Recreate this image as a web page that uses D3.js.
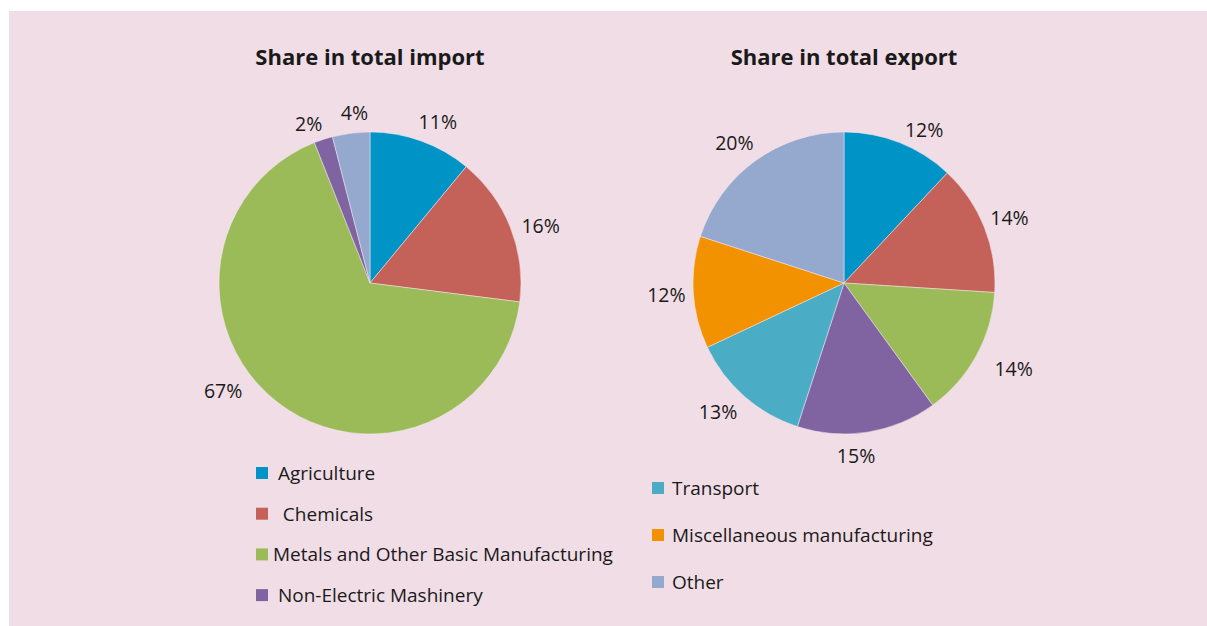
<!DOCTYPE html>
<html>
<head>
<meta charset="utf-8">
<script src="https://cdn.jsdelivr.net/npm/d3@7"></script>
<style>
  body { margin: 0; background: #ffffff; }
  svg { display: block; }
  text { font-family: "Open Sans", "Noto Sans", sans-serif; fill: #1a1a1a; white-space: pre; }
</style>
</head>
<body>
<svg id="chart" width="1207" height="626"></svg>
<script>
// Sector shares of trade, in percent
const importCategories = ["Agriculture", "Chemicals", "Metals and Other Basic Manufacturing", "Non-Electric Mashinery", "Other"];
const importShares = [11, 16, 67, 2, 4];

const exportCategories = ["Agriculture", "Chemicals", "Metals and Other Basic Manufacturing", "Non-Electric Mashinery", "Transport", "Miscellaneous manufacturing", "Other"];
const exportShares = [12, 14, 14, 15, 13, 12, 20];

// Legend entries under each pie (label text as printed)
const importLegendKeys = ["Agriculture", "Chemicals", "Metals and Other Basic Manufacturing", "Non-Electric Mashinery"];
const importLegendLabels = [" Agriculture", "  Chemicals", "Metals and Other Basic Manufacturing", " Non-Electric Mashinery"];
const exportLegendKeys = ["Transport", "Miscellaneous manufacturing", "Other"];
const exportLegendLabels = ["Transport", "Miscellaneous manufacturing", "Other"];

const titles = ["Share in total import", "Share in total export"];

const color = d3.scaleOrdinal()
  .domain(["Agriculture", "Chemicals", "Metals and Other Basic Manufacturing", "Non-Electric Mashinery", "Transport", "Miscellaneous manufacturing", "Other"])
  .range(["#0094c6", "#c4625a", "#9bbb59", "#8064a2", "#4bacc6", "#f39200", "#95a9cf"]);

const svg = d3.select("#chart");

// panel background
svg.append("rect")
  .attr("x", 9).attr("y", 11)
  .attr("width", 1198).attr("height", 615)
  .attr("fill", "#f1dde6");

const radius = 151;
const labelRadius = 178;

const pie = d3.pie().sort(null).value(d => d.value);
const arc = d3.arc().innerRadius(0).outerRadius(radius);

function drawPie(cx, cy, title, cats, values, angleTweaks) {
  const g = svg.append("g").attr("transform", `translate(${cx},${cy})`);
  const data = cats.map((c, i) => ({ key: c, value: values[i] }));
  const arcs = pie(data);

  g.selectAll("path.slice")
    .data(arcs)
    .join("path")
    .attr("class", "slice")
    .attr("d", arc)
    .attr("fill", d => color(d.data.key))
    .attr("stroke", "#f6e9ee")
    .attr("stroke-width", 0.5);

  g.selectAll("text.pct")
    .data(arcs)
    .join("text")
    .attr("class", "pct")
    .attr("transform", d => {
      const t = angleTweaks[d.data.key] || { da: 0, dr: 0 };
      const a = (d.startAngle + d.endAngle) / 2 + t.da * Math.PI / 180;
      const r = labelRadius + t.dr;
      return `translate(${Math.sin(a) * r},${-Math.cos(a) * r})`;
    })
    .attr("text-anchor", "middle")
    .attr("dominant-baseline", "central")
    .attr("font-size", 19.5)
    .text(d => d.data.value + "%");

  svg.append("text")
    .attr("x", cx).attr("y", 65)
    .attr("text-anchor", "middle")
    .attr("font-size", 22)
    .attr("font-weight", "bold")
    .text(title);
}

function drawLegend(x, y0, step, gap, keys, labels) {
  const g = svg.append("g");
  const rows = g.selectAll("g.item")
    .data(keys.map((k, i) => ({ key: k, label: labels[i] })))
    .join("g")
    .attr("class", "item")
    .attr("transform", (d, i) => `translate(${x},${y0 + i * step})`);
  rows.append("rect")
    .attr("x", 0).attr("y", -6)
    .attr("width", 12).attr("height", 12)
    .attr("fill", d => color(d.key));
  rows.append("text")
    .attr("x", 12 + gap).attr("y", 0)
    .attr("dominant-baseline", "central")
    .attr("font-size", 19)
    .text(d => d.label);
}

drawPie(370, 283, titles[0], importCategories, importShares, {
  "Agriculture": { da: 3, dr: -3 },
  "Chemicals": { da: 3, dr: 2 },
  "Metals and Other Basic Manufacturing": { da: 16, dr: 4 },
  "Non-Electric Mashinery": { da: -3, dr: -7 },
  "Other": { da: 2, dr: -7 }
});
drawPie(844, 283, titles[1], exportCategories, exportShares, {
  "Agriculture": { da: 6, dr: -5 },
  "Metals and Other Basic Manufacturing": { da: -2, dr: 12 },
  "Non-Electric Mashinery": { da: 5, dr: -5 },
  "Transport": { da: 3, dr: 2 },
  "Other": { da: -2, dr: 0 }
});

drawLegend(256, 473, 40.7, 5, importLegendKeys, importLegendLabels);
drawLegend(652, 488, 47, 8, exportLegendKeys, exportLegendLabels);
</script>
</body>
</html>
